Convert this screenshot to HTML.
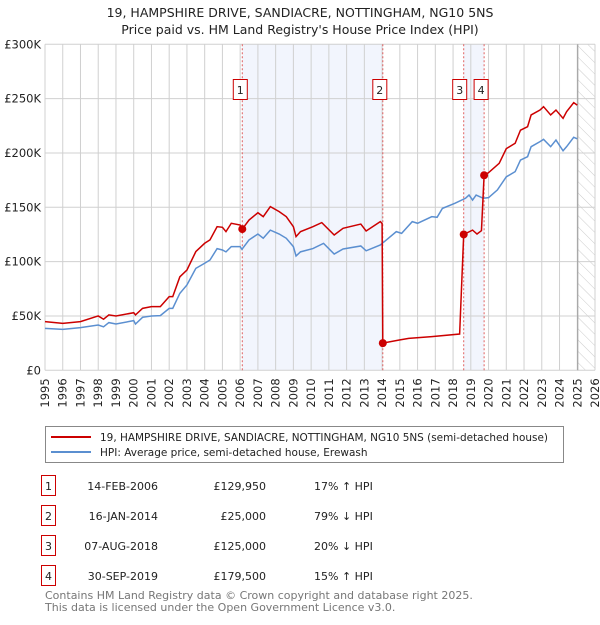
<!DOCTYPE html>
<html><head><meta charset="utf-8"><style>
body{margin:0;background:#fff;font-family:"Liberation Sans","DejaVu Sans",sans-serif;}
svg text{font-family:"DejaVu Sans","Liberation Sans",sans-serif;}
</style></head><body>
<svg id="c" width="600" height="620" xmlns="http://www.w3.org/2000/svg">
<defs><pattern id="hatch" width="8" height="8" patternUnits="userSpaceOnUse" patternTransform="rotate(-45)"><line x1="0" y1="0" x2="0" y2="8" stroke="#ccc" stroke-width="1"/></pattern></defs>
<text x="300" y="17" text-anchor="middle" font-size="12.5" fill="#222">19, HAMPSHIRE DRIVE, SANDIACRE, NOTTINGHAM, NG10 5NS</text>
<text x="300" y="34" text-anchor="middle" font-size="12.5" fill="#222">Price paid vs. HM Land Registry's House Price Index (HPI)</text>
<g id="plot"></g>
<g>
<rect x="45.5" y="426.5" width="518" height="36" fill="#fff" stroke="#888"/>
<line x1="51" y1="437" x2="91" y2="437" stroke="#cc0000" stroke-width="2"/>
<text x="100" y="441" font-size="10.5" textLength="448" lengthAdjust="spacingAndGlyphs" fill="#222">19, HAMPSHIRE DRIVE, SANDIACRE, NOTTINGHAM, NG10 5NS (semi-detached house)</text>
<line x1="51" y1="452" x2="91" y2="452" stroke="#5b8fd0" stroke-width="2"/>
<text x="100" y="456" font-size="10.5" fill="#222">HPI: Average price, semi-detached house, Erewash</text>
</g>
<g id="table" font-size="11" fill="#222"></g>
<text x="45" y="599" font-size="11" fill="#777">Contains HM Land Registry data © Crown copyright and database right 2025.</text>
<text x="45" y="611" font-size="11" fill="#777">This data is licensed under the Open Government Licence v3.0.</text>
</svg>
<script>
const yearTicks=[1995,1996,1997,1998,1999,2000,2001,2002,2003,2004,2005,2006,2007,2008,2009,2010,2011,2012,2013,2014,2015,2016,2017,2018,2019,2020,2021,2022,2023,2024,2025,2026];
const valueTicks=[0,50000,100000,150000,200000,250000,300000];
const valueTickLabels=["£0","£50K","£100K","£150K","£200K","£250K","£300K"];
const hpiYears=[1995,1996,1997,1998,1998.3,1998.6,1999,2000,2000.1,2000.5,2001,2001.5,2002,2002.2,2002.6,2003,2003.5,2004,2004.3,2004.7,2005,2005.2,2005.5,2006,2006.1,2006.5,2007,2007.3,2007.7,2008.2,2008.6,2009,2009.15,2009.4,2010.1,2010.7,2011.3,2011.8,2012.8,2013.1,2013.9,2014.8,2015.1,2015.7,2016,2016.8,2017.1,2017.4,2018.1,2018.7,2018.9,2019.1,2019.3,2019.7,2020,2020.5,2021,2021.5,2021.8,2022.2,2022.4,2022.9,2023.1,2023.5,2023.8,2024.2,2024.4,2024.8,2025];
const hpiValues=[38.6,37.7,39.3,41.7,40,43.9,42.6,45.7,42.6,48.8,50,50.3,57,57,70.8,78.5,93.8,98.5,101.5,112,110.7,109,113.8,113.8,111.3,120,125.4,121.5,129,125.4,121.5,113.8,105.2,109,112,116.8,107,111.6,114.4,110,115.3,127.6,126,136.8,135.3,141.4,140.8,149,153.7,158.3,161.3,156.7,161.3,158.3,158.9,166,178,182.8,193.5,196.6,205.8,210.4,212.5,205.8,211.9,202,205.8,214.4,213];
const priceYears=[1995,1996,1997,1998,1998.3,1998.6,1999,2000,2000.1,2000.5,2001,2001.5,2002,2002.2,2002.6,2003,2003.5,2004,2004.3,2004.7,2005,2005.2,2005.5,2006,2006.12,2006.5,2007,2007.3,2007.7,2008.2,2008.6,2009,2009.15,2009.4,2010.1,2010.6,2011.3,2011.8,2012.8,2013.1,2013.9,2014.0,2014.04,2014.97,2015.5,2016.8,2018.37,2018.6,2019.1,2019.35,2019.6,2019.75,2020,2020.6,2021,2021.5,2021.8,2022.2,2022.4,2022.9,2023.1,2023.5,2023.8,2024.2,2024.4,2024.8,2025];
const priceValues=[44.8,43.2,44.8,50,47,51,50,53,51,57,58.6,58.6,67.8,67.8,86,92.3,109.2,116.9,120,132.2,131.6,127.6,135.3,133.7,129.95,138.3,145,141.4,150.6,146,141.4,132.2,123,127.6,132.2,135.9,124.5,130.7,134.6,128.2,136.8,135,25,27.9,29.4,31,33.4,125,129,125.4,128.5,179.5,181.9,190.5,204,208.9,221,224.2,235,239.5,242.6,235,239.5,231.9,238,246.3,244];
const saleYears=[2006.12,2014.04,2018.6,2019.75];
const saleValues=[129950,25000,125000,179500];
const saleLabels=["1","2","3","4"];
const saleDates=["14-FEB-2006","16-JAN-2014","07-AUG-2018","30-SEP-2019"];
const salePrices=["£129,950","£25,000","£125,000","£179,500"];
const saleHpi=["17% ↑ HPI","79% ↓ HPI","20% ↓ HPI","15% ↑ HPI"];

const NS="http://www.w3.org/2000/svg";
const X0=45,X1=595,Y0=370.3,Y1=44.3;
const xs=y=>X0+(y-1995)/(2026-1995)*(X1-X0);
const ys=v=>Y0-v/300000*(Y0-Y1);
const plot=document.getElementById('plot');
function mk(tag,attrs,parent){const e=document.createElementNS(NS,tag);for(const k in attrs)e.setAttribute(k,attrs[k]);(parent||plot).appendChild(e);return e;}

let s=mk('rect',{x:xs(saleYears[0]),y:Y1,width:xs(saleYears[1])-xs(saleYears[0]),height:Y0-Y1,fill:'#f2f5fd'});


s=mk('rect',{x:xs(saleYears[2]),y:Y1,width:xs(saleYears[3])-xs(saleYears[2]),height:Y0-Y1,fill:'#f2f5fd'});


s=mk('rect',{x:xs(2025.03),y:Y1,width:X1-xs(2025.03),height:Y0-Y1,fill:'url(#hatch)'});


yearTicks.forEach(y=>{const l=mk('line',{x1:xs(y),x2:xs(y),y1:Y1,y2:Y0,stroke:'#d0d0d0','stroke-width':1});


const t=mk('text',{transform:`translate(${xs(y)+4},${Y0+8}) rotate(-90)`,'text-anchor':'end','font-size':11.5,fill:'#222'});t.textContent=y;

});
valueTicks.forEach((v,i)=>{const l=mk('line',{x1:X0,x2:X1,y1:ys(v),y2:ys(v),stroke:'#d0d0d0','stroke-width':1});


const t=mk('text',{x:X0-4,y:ys(v)+4,'text-anchor':'end','font-size':11.5,fill:'#222'});t.textContent=valueTickLabels[i];

});
s=mk('line',{x1:xs(2025.03),x2:xs(2025.03),y1:Y1,y2:Y0,stroke:'#999','stroke-width':1});


saleYears.forEach((y,i)=>{const l=mk('line',{x1:xs(y),x2:xs(y),y1:Y1,y2:Y0,stroke:'#e06060','stroke-width':1,'stroke-dasharray':'2,2'});

});
const hp=mk('polyline',{points:hpiYears.map((y,i)=>xs(y)+','+ys(hpiValues[i]*1000)).join(' '),fill:'none',stroke:'#5b8fd0','stroke-width':1.5});


const pp=mk('polyline',{points:priceYears.map((y,i)=>xs(y)+','+ys(priceValues[i]*1000)).join(' '),fill:'none',stroke:'#cc0000','stroke-width':1.5});


const boxOffsets=[-2,-3,-4,-3];
saleYears.forEach((y,i)=>{const c=mk('circle',{cx:xs(y),cy:ys(saleValues[i]),r:4,fill:'#cc0000'});


const bx=xs(y)+boxOffsets[i];
const r=mk('rect',{x:bx-7,y:79.5,width:14,height:20,fill:'#fff',stroke:'#cc0000','stroke-width':1});


const t=mk('text',{x:bx,y:94,'text-anchor':'middle','font-size':11,fill:'#222'});t.textContent=saleLabels[i];

});
const tb=document.getElementById('table');
const rowY=[486,516,546,576];
saleLabels.forEach((lab,i)=>{const y=rowY[i];
const r=mk('rect',{x:41.5,y:y-10.5,width:14,height:20,fill:'#fff',stroke:'#cc0000'},tb);


const a=mk('text',{x:48.5,y:y+4,'text-anchor':'middle'},tb);a.textContent=lab;


const d=mk('text',{x:158,y:y+4,'text-anchor':'end'},tb);d.textContent=saleDates[i];


const p=mk('text',{x:266,y:y+4,'text-anchor':'end'},tb);p.textContent=salePrices[i];


const h=mk('text',{x:314,y:y+4},tb);h.textContent=saleHpi[i];

});
</script>
</body></html>
